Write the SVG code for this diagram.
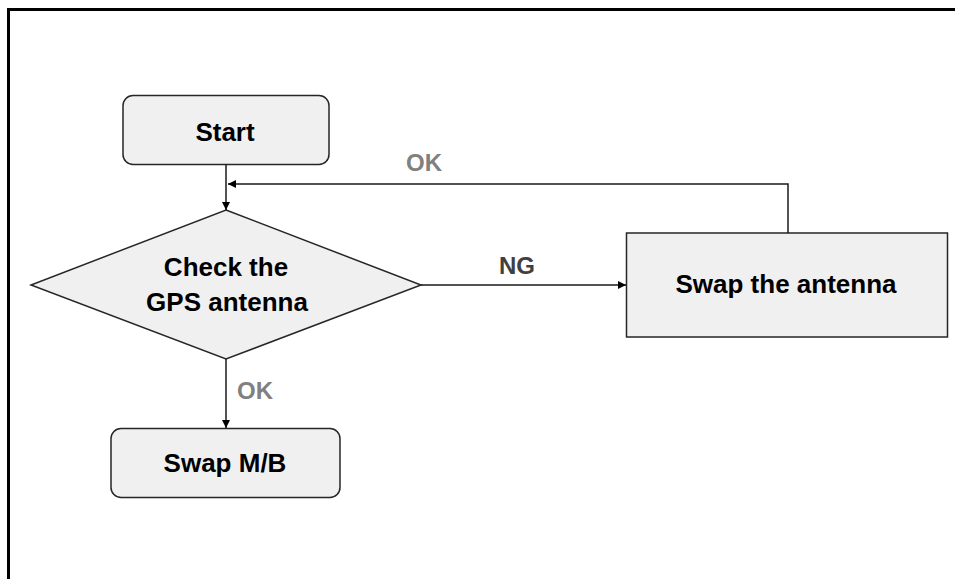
<svg xmlns="http://www.w3.org/2000/svg" width="955" height="579" viewBox="0 0 955 579">
  <style>
    .node { fill: #f0f0f0; stroke: #262626; stroke-width: 1.5; }
    .lbl { font-family: "Liberation Sans", Arial, sans-serif; font-weight: bold; font-size: 26px; fill: #000; text-anchor: middle; }
    .edge { fill: none; stroke: #1a1a1a; stroke-width: 1.5; }
    .ok { font-family: "Liberation Sans", Arial, sans-serif; font-weight: bold; font-size: 24px; fill: #808080; text-anchor: middle; }
    .ng { font-family: "Liberation Sans", Arial, sans-serif; font-weight: bold; font-size: 24px; fill: #404040; text-anchor: middle; }
  </style>
  <defs>
    <marker id="arrow" markerUnits="userSpaceOnUse" markerWidth="9" markerHeight="9" refX="8" refY="4" orient="auto">
      <path d="M0,0 L8,4 L0,8 z" fill="#000"/>
    </marker>
  </defs>
  <rect x="0" y="0" width="955" height="579" fill="#fff"/>
  <rect x="8.5" y="9.5" width="960" height="590" fill="none" stroke="#000" stroke-width="3"/>

  <g id="start">
    <rect class="node" x="123" y="95.5" width="206" height="69" rx="10"/>
    <text class="lbl" x="225" y="141">Start</text>
  </g>
  <g id="check">
    <polygon class="node" points="226,210 421,285 226,359 31,285"/>
    <text class="lbl" x="226" y="276">Check the</text>
    <text class="lbl" x="227" y="311">GPS antenna</text>
  </g>
  <g id="swap-antenna">
    <rect class="node" x="626.5" y="233" width="321" height="104"/>
    <text class="lbl" x="786" y="293">Swap the antenna</text>
  </g>
  <g id="swap-mb">
    <rect class="node" x="111" y="428.5" width="229" height="69" rx="10"/>
    <text class="lbl" x="225" y="472">Swap M/B</text>
  </g>

  <g id="connectors">
    <path class="edge" d="M226,164.5 L226,210" marker-end="url(#arrow)"/>
    <path class="edge" d="M421,285 L626,285" marker-end="url(#arrow)"/>
    <path class="edge" d="M788,233 L788,184 L228,184" marker-end="url(#arrow)"/>
    <path class="edge" d="M226,359 L226,428" marker-end="url(#arrow)"/>
    <text class="ng" x="517" y="274">NG</text>
    <text class="ok" x="424" y="171">OK</text>
    <text class="ok" x="255" y="399">OK</text>
  </g>
</svg>
